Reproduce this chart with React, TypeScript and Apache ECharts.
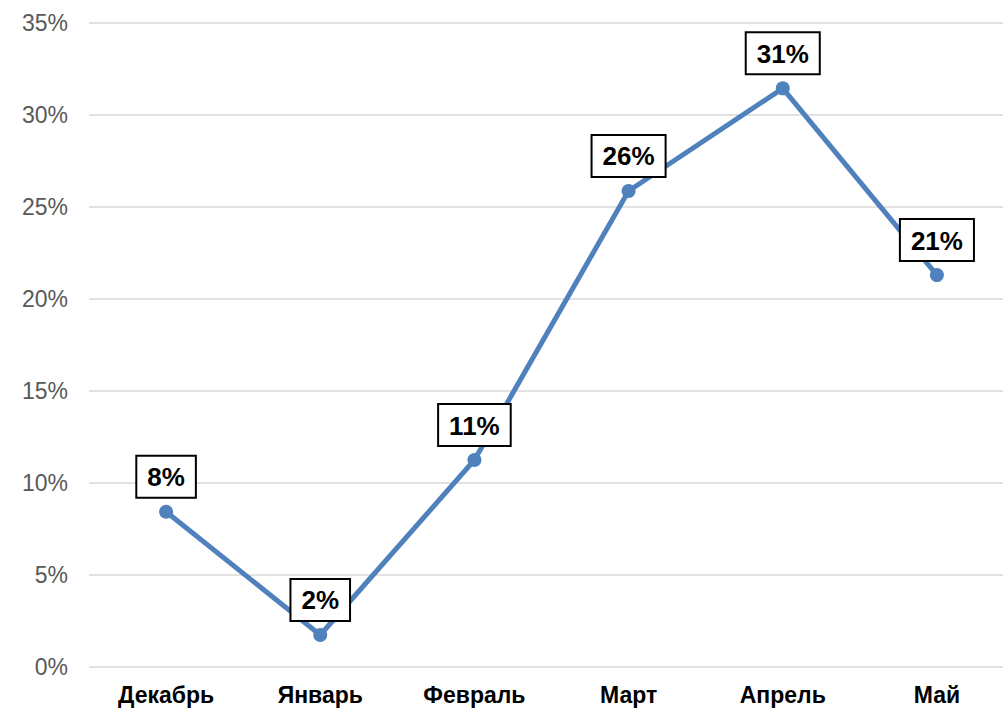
import React, { useEffect, useRef } from "react";
import * as echarts from "echarts";

const categories = ["Декабрь", "Январь", "Февраль", "Март", "Апрель", "Май"];
const values = [8.44, 1.74, 11.25, 25.87, 31.45, 21.3];
const yMin = 0;
const yMax = 35;
const yInterval = 5;

export default function App() {
  const ref = useRef<HTMLDivElement>(null);
  useEffect(() => {
    if (!ref.current) return;
    const chart = echarts.init(ref.current, null, { renderer: "svg" });
    chart.setOption({
      animation: false,
      backgroundColor: "#ffffff",
      grid: { left: 89, top: 23, width: 925, height: 644, containLabel: false },
      xAxis: {
        type: "category",
        data: categories,
        boundaryGap: true,
        axisLine: { show: false },
        axisTick: { show: false },
        axisLabel: {
          color: "#000000",
          fontFamily: "Liberation Sans, Arial, sans-serif",
          fontSize: 23,
          fontWeight: "bold",
          margin: 16,
        },
      },
      yAxis: {
        type: "value",
        min: yMin,
        max: yMax,
        interval: yInterval,
        axisLine: { show: false },
        axisTick: { show: false },
        splitLine: { lineStyle: { color: "#d9d9d9", width: 1.5 } },
        axisLabel: {
          color: "#595959",
          fontFamily: "Liberation Sans, Arial, sans-serif",
          fontSize: 23,
          margin: 21,
          formatter: (v: number) => v + "%",
        },
      },
      series: [
        {
          type: "line",
          data: values,
          symbol: "circle",
          symbolSize: 14,
          lineStyle: { color: "#4f81bd", width: 5 },
          itemStyle: { color: "#4f81bd" },
          label: {
            show: true,
            position: "top",
            distance: 8,
            formatter: (p: any) => Math.round(p.value) + "%",
            color: "#000000",
            fontFamily: "Liberation Sans, Arial, sans-serif",
            fontSize: 26,
            lineHeight: 27,
            fontWeight: "bold",
            backgroundColor: "#ffffff",
            borderColor: "#000000",
            borderWidth: 2,
            padding: [7, 10, 6, 10],
          },
        },
      ],
    });
    return () => chart.dispose();
  }, []);
  return (
    <div
      style={{
        position: "fixed",
        left: 0,
        top: 0,
        width: 1003,
        height: 709,
        overflow: "hidden",
        background: "#fff",
      }}
    >
      <div ref={ref} style={{ width: 1030, height: 709 }} />
    </div>
  );
}
